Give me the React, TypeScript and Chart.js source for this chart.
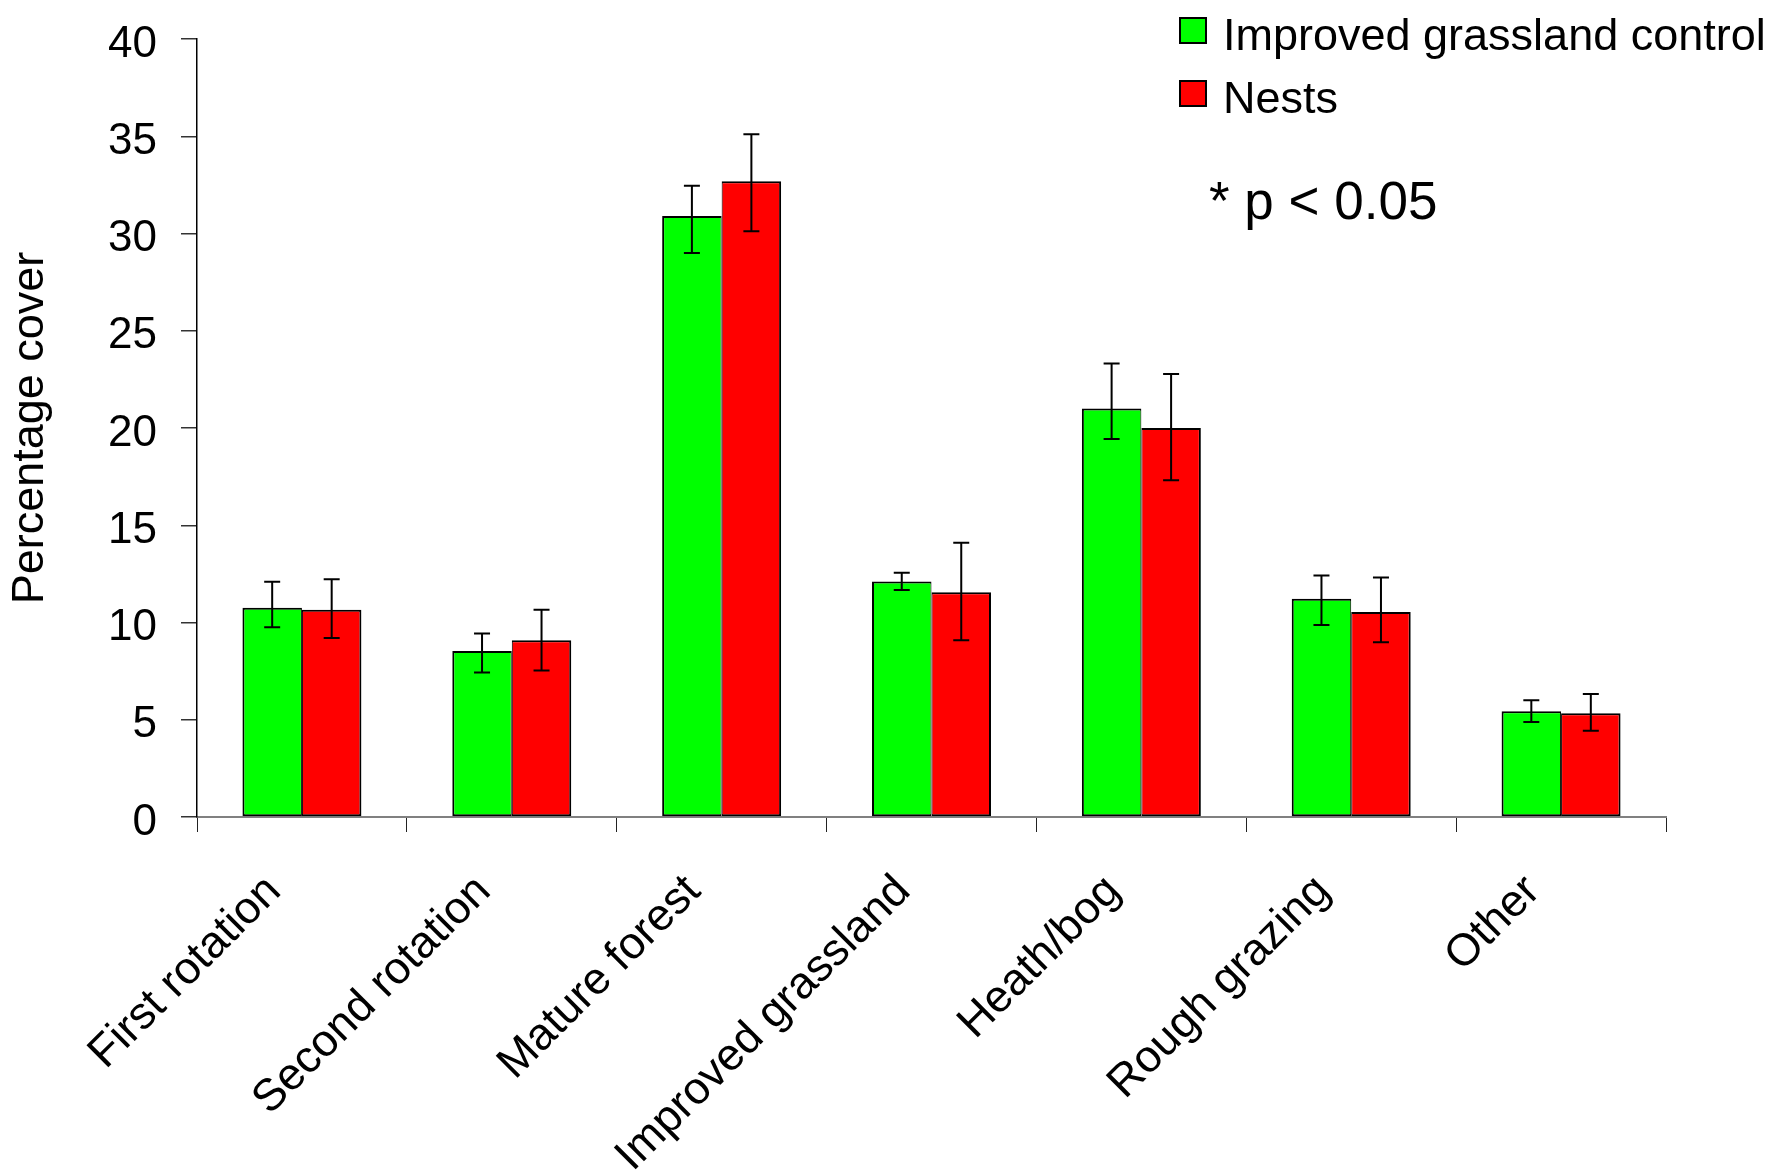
import { useEffect, useRef } from "react";
import { Chart, registerables } from "chart.js";

Chart.register(...registerables);

const FONT = '"Liberation Sans", Arial, Helvetica, sans-serif';

// Habitat categories along the x axis
const categories = [
  "First rotation",
  "Second rotation",
  "Mature forest",
  "Improved grassland",
  "Heath/bog",
  "Rough grazing",
  "Other",
];

// Mean percentage cover
const controlCover = [10.76, 8.54, 30.9, 12.11, 21.0, 11.22, 5.44];
const nestCover = [10.65, 9.09, 32.68, 11.55, 20.0, 10.54, 5.34];

// Error bar limits (upper and lower ends)
const controlUpper = [12.09, 9.44, 32.46, 12.56, 23.31, 12.42, 6.0];
const controlLower = [9.76, 7.43, 29.0, 11.67, 19.44, 9.87, 4.89];
const nestUpper = [12.22, 10.65, 35.1, 14.1, 22.78, 12.32, 6.33];
const nestLower = [9.2, 7.53, 30.11, 9.09, 17.31, 8.98, 4.43];

// Y axis range
const yMin = 0;
const yMax = 40;
const yStep = 5;

const seriesNames = ["Improved grassland control", "Nests"];
const seriesColors = ["#00ff00", "#ff0000"];
const significanceNote = "* p < 0.05";

// Draws whiskers with caps above and below each bar
const errorBarPlugin = {
  id: "errorBars",
  afterDatasetsDraw(chart: any) {
    const { ctx } = chart;
    const yScale = chart.scales.y;
    chart.data.datasets.forEach((ds: any, di: number) => {
      const meta = chart.getDatasetMeta(di);
      meta.data.forEach((bar: any, i: number) => {
        const x = bar.x;
        const top = yScale.getPixelForValue(ds.errorUpper[i]);
        const bottom = yScale.getPixelForValue(ds.errorLower[i]);
        const half = 8;
        ctx.save();
        ctx.strokeStyle = "#000";
        ctx.lineWidth = 2;
        ctx.beginPath();
        ctx.moveTo(x, top);
        ctx.lineTo(x, bottom);
        ctx.moveTo(x - half, top);
        ctx.lineTo(x + half, top);
        ctx.moveTo(x - half, bottom);
        ctx.lineTo(x + half, bottom);
        ctx.stroke();
        ctx.restore();
      });
    });
  },
};

// Legend stacked in the top-right corner plus the significance note
const cornerLegendPlugin = {
  id: "cornerLegend",
  afterDraw(chart: any) {
    const { ctx } = chart;
    ctx.save();
    ctx.font = `45px ${FONT}`;
    ctx.textBaseline = "alphabetic";
    ctx.textAlign = "left";
    chart.data.datasets.forEach((ds: any, i: number) => {
      const top = 17 + i * 63;
      ctx.fillStyle = ds.backgroundColor;
      ctx.fillRect(1179, top, 28, 27);
      ctx.strokeStyle = "#000";
      ctx.lineWidth = 2;
      ctx.strokeRect(1180, top + 1, 26, 25);
      ctx.fillStyle = "#000";
      ctx.fillText(ds.label, 1223, top + 33);
    });
    ctx.font = `53px ${FONT}`;
    ctx.fillText(significanceNote, 1209, 219);
    ctx.restore();
  },
};

export default function App() {
  const canvasRef = useRef<HTMLCanvasElement>(null);

  useEffect(() => {
    const canvas = canvasRef.current;
    if (!canvas) return;

    const chart = new Chart(canvas, {
      type: "bar",
      data: {
        labels: categories,
        datasets: [
          {
            label: seriesNames[0],
            data: controlCover,
            backgroundColor: seriesColors[0],
            borderColor: "#000",
            borderWidth: { top: 2, left: 2, bottom: 2, right: 1 },
            borderSkipped: false,
            categoryPercentage: 0.567,
            barPercentage: 1,
            errorUpper: controlUpper,
            errorLower: controlLower,
          } as any,
          {
            label: seriesNames[1],
            data: nestCover,
            backgroundColor: seriesColors[1],
            borderColor: "#000",
            borderWidth: { top: 2, left: 1, bottom: 2, right: 2 },
            borderSkipped: false,
            categoryPercentage: 0.567,
            barPercentage: 1,
            errorUpper: nestUpper,
            errorLower: nestLower,
          } as any,
        ],
      },
      options: {
        animation: false,
        responsive: false,
        maintainAspectRatio: false,
        devicePixelRatio: 1,
        layout: { padding: { left: 0, right: 109, top: 39, bottom: 0 } },
        plugins: {
          legend: { display: false },
          tooltip: { enabled: false },
        },
        scales: {
          x: {
            grid: {
              display: true,
              drawOnChartArea: false,
              drawTicks: true,
              tickLength: 15,
              color: "#222",
              lineWidth: 1,
              offset: true,
            },
            border: { display: true, color: "#808080", width: 2 },
            ticks: {
              autoSkip: false,
              minRotation: 45,
              maxRotation: 45,
              color: "#000",
              font: { family: FONT, size: 45 },
              padding: 33,
              labelOffset: -28,
            },
            afterFit: (scale: any) => {
              scale.height = 359;
            },
          },
          y: {
            min: yMin,
            max: yMax,
            grid: {
              display: true,
              drawOnChartArea: false,
              drawTicks: true,
              tickLength: 16,
              color: "#333",
              lineWidth: 1.5,
            },
            border: { display: true, color: "#000", width: 1.5 },
            ticks: {
              stepSize: yStep,
              color: "#000",
              font: { family: FONT, size: 44 },
              padding: 24,
              labelOffset: 5.5,
            },
            title: {
              display: true,
              text: "Percentage cover",
              color: "#000",
              font: { family: FONT, size: 45 },
              padding: { top: 4, bottom: 0 },
            },
            afterFit: (scale: any) => {
              scale.width = 197;
              scale.paddingTop = 0;
              scale.paddingBottom = 0;
            },
          },
        },
      },
      plugins: [errorBarPlugin, cornerLegendPlugin],
    });

    return () => chart.destroy();
  }, []);

  return (
    <div
      style={{
        position: "absolute",
        left: 0,
        top: 0,
        width: 1775,
        height: 1176,
        background: "#fff",
      }}
    >
      <canvas
        ref={canvasRef}
        width={1775}
        height={1176}
        style={{ display: "block", width: 1775, height: 1176 }}
      />
    </div>
  );
}
